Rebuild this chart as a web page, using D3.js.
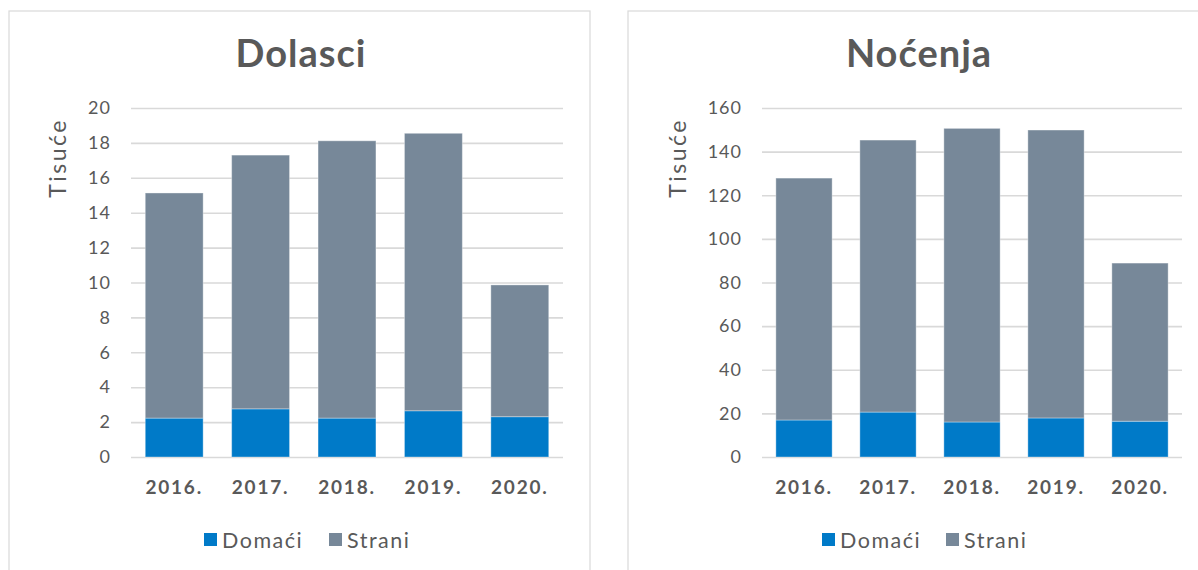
<!DOCTYPE html>
<html><head><meta charset="utf-8">
<script src="https://cdn.jsdelivr.net/npm/d3@7"></script>
<style>body{margin:0;background:#fff;}svg{display:block;font-family:Lato,"Open Sans",sans-serif;}</style>
</head><body>
<svg id="c" width="1198" height="570"></svg>
<script>
const years = ["2016.","2017.","2018.","2019.","2020."];
const dolasciDomaci = [2.23,2.76,2.23,2.65,2.31];
const dolasciStrani = [12.9,14.54,15.89,15.9,7.55];
const nocenjaDomaci = [16.96,20.6,16.05,17.9,16.4];
const nocenjaStrani = [110.9,124.7,134.6,132.0,72.5];
const dolasciTicks = [0,2,4,6,8,10,12,14,16,18,20];
const nocenjaTicks = [0,20,40,60,80,100,120,140,160];
const seriesNames = ["Domaći","Strani"];
const colors = ["#007ac8","#778899"];
const txt = "#595959";

const svg = d3.select("#c");

function panel(o){
  const g = svg.append("g");
  g.append("rect").attr("x",o.px).attr("y",11).attr("width",o.pw).attr("height",600)
    .attr("fill","#fff").attr("stroke","#d9d9d9").attr("stroke-width",1.2);
  g.append("text").attr("x",o.tx).attr("y",67).attr("text-anchor","middle")
    .attr("font-size",38).attr("font-weight","bold").attr("letter-spacing",1).attr("fill",txt).text(o.title);
  const x = d3.scaleBand().domain(years).range([o.x0,o.x1]).paddingInner(0.33).paddingOuter(0.165);
  const y = d3.scaleLinear().domain([0,o.max]).range([457,108]);
  const gy = g.append("g").attr("transform",`translate(${o.x0},0)`)
    .call(d3.axisLeft(y).tickValues(o.ticks).tickSize(-(o.x1-o.x0)).tickPadding(20));
  gy.select(".domain").remove();
  gy.selectAll(".tick line").attr("stroke","#d9d9d9").attr("stroke-width",1.6);
  gy.selectAll(".tick text").attr("fill",txt).attr("font-size",18).attr("letter-spacing",1).attr("font-family","Lato,sans-serif");
  const stackData = years.map((yr,i)=>({year:yr, "Domaći":o.dom[i], "Strani":o.str[i]}));
  const stack = d3.stack().keys(seriesNames)(stackData);
  stack.forEach((s,si)=>{
    g.append("g").selectAll("rect").data(s).join("rect")
      .attr("x",d=>x(d.data.year)).attr("width",x.bandwidth())
      .attr("y",d=>y(d[1])).attr("height",d=>y(d[0])-y(d[1]))
      .attr("fill",colors[si]).attr("stroke","rgba(255,255,255,0.35)").attr("stroke-width",1);
  });
  const gx = g.append("g").attr("transform","translate(0,457)")
    .call(d3.axisBottom(x).tickSize(0).tickPadding(24));
  gx.select(".domain").remove();
  gx.selectAll(".tick text").attr("fill",txt).attr("font-size",19).attr("font-weight","bold").attr("letter-spacing",1.8).attr("font-family","Lato,sans-serif");
  g.append("text").attr("transform",`translate(${o.ax},158) rotate(-90)`).attr("text-anchor","middle")
    .attr("font-size",23).attr("letter-spacing",2.5).attr("fill",txt).text("Tisuće");
  const lg = g.append("g");
  seriesNames.forEach((n,i)=>{
    const lx = o.lx[i];
    lg.append("rect").attr("x",lx).attr("y",533).attr("width",13).attr("height",13).attr("fill",colors[i]);
    lg.append("text").attr("x",lx+18).attr("y",548).attr("font-size",21.5).attr("letter-spacing",1.5).attr("fill",txt).text(n);
  });
}

panel({px:9,pw:581,title:"Dolasci",tx:301,x0:131,x1:563,max:20,ticks:dolasciTicks,dom:dolasciDomaci,str:dolasciStrani,ax:66,lx:[204,329]});
panel({px:628,pw:600,title:"Noćenja",tx:919,x0:762,x1:1182,max:160,ticks:nocenjaTicks,dom:nocenjaDomaci,str:nocenjaStrani,ax:686,lx:[822,946]});
</script>
</body></html>
